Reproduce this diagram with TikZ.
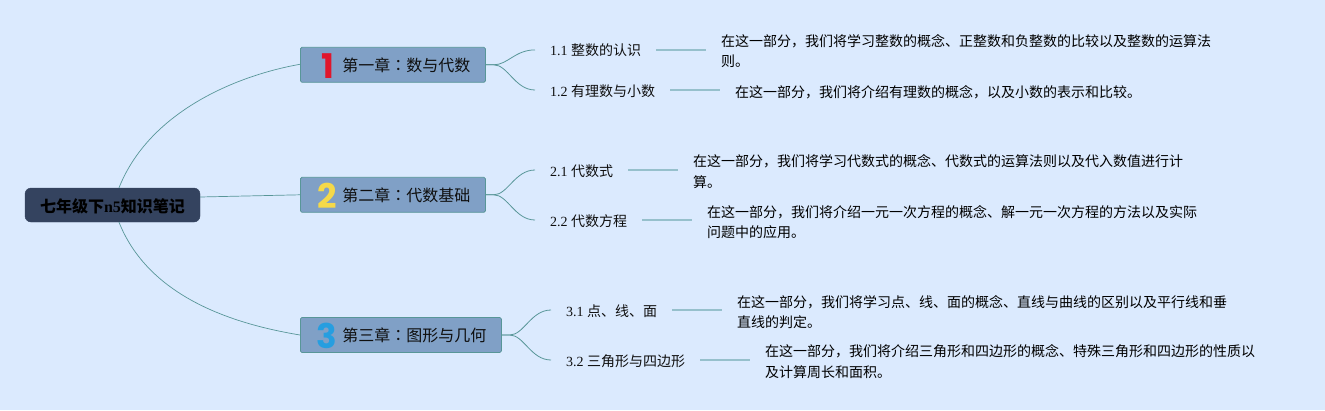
\documentclass[tikz,border=0pt]{standalone}
\usepackage{fontspec}
\setmainfont{Liberation Serif}
\newfontfamily\cjk{Noto Sans CJK SC}
\newfontfamily\cjktc{Noto Sans CJK TC}
\newfontfamily\numfont{Poppins}
\usetikzlibrary{calc}
\definecolor{bgc}{RGB}{219,234,254}
\definecolor{rootc}{RGB}{52,67,95}
\definecolor{chapc}{RGB}{128,160,198}
\definecolor{edgec}{RGB}{88,150,152}
\definecolor{leafc}{RGB}{150,192,204}
\definecolor{txt}{RGB}{15,15,15}
\definecolor{numa}{RGB}{224,22,43}
\definecolor{numb}{RGB}{245,217,73}
\definecolor{numc}{RGB}{38,158,224}
\newcommand\zh[1]{{\cjk #1}}
\newcommand\zhcolon{{\cjktc ：}}
\tikzset{
  x=1pt,y=-1pt,
  rootnode/.style={draw=rootc,fill=rootc,rounded corners=6pt,minimum width=175pt,minimum height=34pt,inner sep=0pt,text height=14pt,text depth=0pt,text=black,font=\fontsize{16}{18}\selectfont\bfseries},
  chapnode/.style={draw=edgec,fill=chapc,line width=0.8pt,rounded corners=1.5pt,minimum height=35pt,anchor=west,inner sep=0pt,text height=13pt,text depth=0pt,text=txt,font=\fontsize{16}{18}\selectfont},
  numnode/.style={inner sep=0pt,font=\fontsize{34}{36}\selectfont\numfont\bfseries},
  subnode/.style={anchor=west,inner xsep=15pt,inner ysep=0pt,text height=13pt,text depth=1pt,minimum height=20pt,text=txt,font=\fontsize{14}{20}\selectfont},
  descnode/.style={anchor=west,inner xsep=15pt,inner ysep=0pt,align=left,text=black,font=\fontsize{14}{20.5}\selectfont},
  mainline/.style={draw=edgec,line width=0.7pt},
  branchline/.style={draw=edgec,line width=0.8pt},
  leafline/.style={draw=leafc,line width=1.4pt}
}
\begin{document}
\begin{tikzpicture}
\fill[bgc] (0,0) rectangle (1325,410);
\useasboundingbox (0,0) rectangle (1325,410);
% root
\node[rootnode] (root) at (112.5,205) {\zh{七年级下}n5\zh{知识笔记}};
% chapters
\node[chapnode,minimum width=185pt] (c1) at (300,64.8) {\hspace*{27pt}\zh{第一章}\zhcolon\zh{数与代数}};
\node[chapnode,minimum width=185pt] (c2) at (300,194.8) {\hspace*{27pt}\zh{第二章}\zhcolon\zh{代数基础}};
\node[chapnode,minimum width=201pt] (c3) at (300,335) {\hspace*{27pt}\zh{第三章}\zhcolon\zh{图形与几何}};
\node[numnode,text=numa] (n1) at (328,66) {1};
\node[numnode,text=numb] (n2) at (327,196) {2};
\node[numnode,text=numc] (n3) at (327,336) {3};
% sections
\node[subnode] (s11) at (535,49.9) {1.1 \zh{整数的认识}};
\node[subnode] (s12) at (535,90) {1.2 \zh{有理数与小数}};
\node[subnode] (s21) at (535,170) {2.1 \zh{代数式}};
\node[subnode] (s22) at (535,220) {2.2 \zh{代数方程}};
\node[subnode] (s31) at (551,310) {3.1 \zh{点、线、面}};
\node[subnode] (s32) at (551,360) {3.2 \zh{三角形与四边形}};
% descriptions
\node[descnode] (d11) at (706,51) {\zh{在这一部分，我们将学习整数的概念、正整数和负整数的比较以及整数的运算法}\\\zh{则。}};
\node[descnode] (d12) at (720,92) {\zh{在这一部分，我们将介绍有理数的概念，以及小数的表示和比较。}};
\node[descnode] (d21) at (678,171.5) {\zh{在这一部分，我们将学习代数式的概念、代数式的运算法则以及代入数值进行计}\\\zh{算。}};
\node[descnode] (d22) at (692,222) {\zh{在这一部分，我们将介绍一元一次方程的概念、解一元一次方程的方法以及实际}\\\zh{问题中的应用。}};
\node[descnode] (d31) at (722,312) {\zh{在这一部分，我们将学习点、线、面的概念、直线与曲线的区别以及平行线和垂}\\\zh{直线的判定。}};
\node[descnode] (d32) at (750,361.5) {\zh{在这一部分，我们将介绍三角形和四边形的概念、特殊三角形和四边形的性质以}\\\zh{及计算周长和面积。}};
% root connectors
\draw[mainline] ($(root.north)+(6.5,0)$) .. controls +(31,-78) and ($(c1.west)+(-60,10)$) .. ($(c1.west)+(0,-0.5)$);
\draw[mainline] ($(root.east)+(0,-8)$) -- (c2.west);
\draw[mainline] ($(root.south)+(6.5,0)$) .. controls +(31,78) and ($(c3.west)+(-60,-10)$) .. (c3.west);
% chapter connectors
\foreach \c/\s in {c1/s11,c1/s12,c2/s21,c2/s22,c3/s31,c3/s32}{
  \draw[branchline] (\c.east) -- ++(8,0) .. controls ++(14,0) and ($(\s.west)+(-20,0)$) .. (\s.west);
}
% section connectors
\foreach \s/\e in {s11/d11,s12/d12,s21/d21,s22/d22,s31/d31,s32/d32}{
  \draw[leafline] (\s.east) -- (\e.west |- \s.east);
}
\end{tikzpicture}
\end{document}
